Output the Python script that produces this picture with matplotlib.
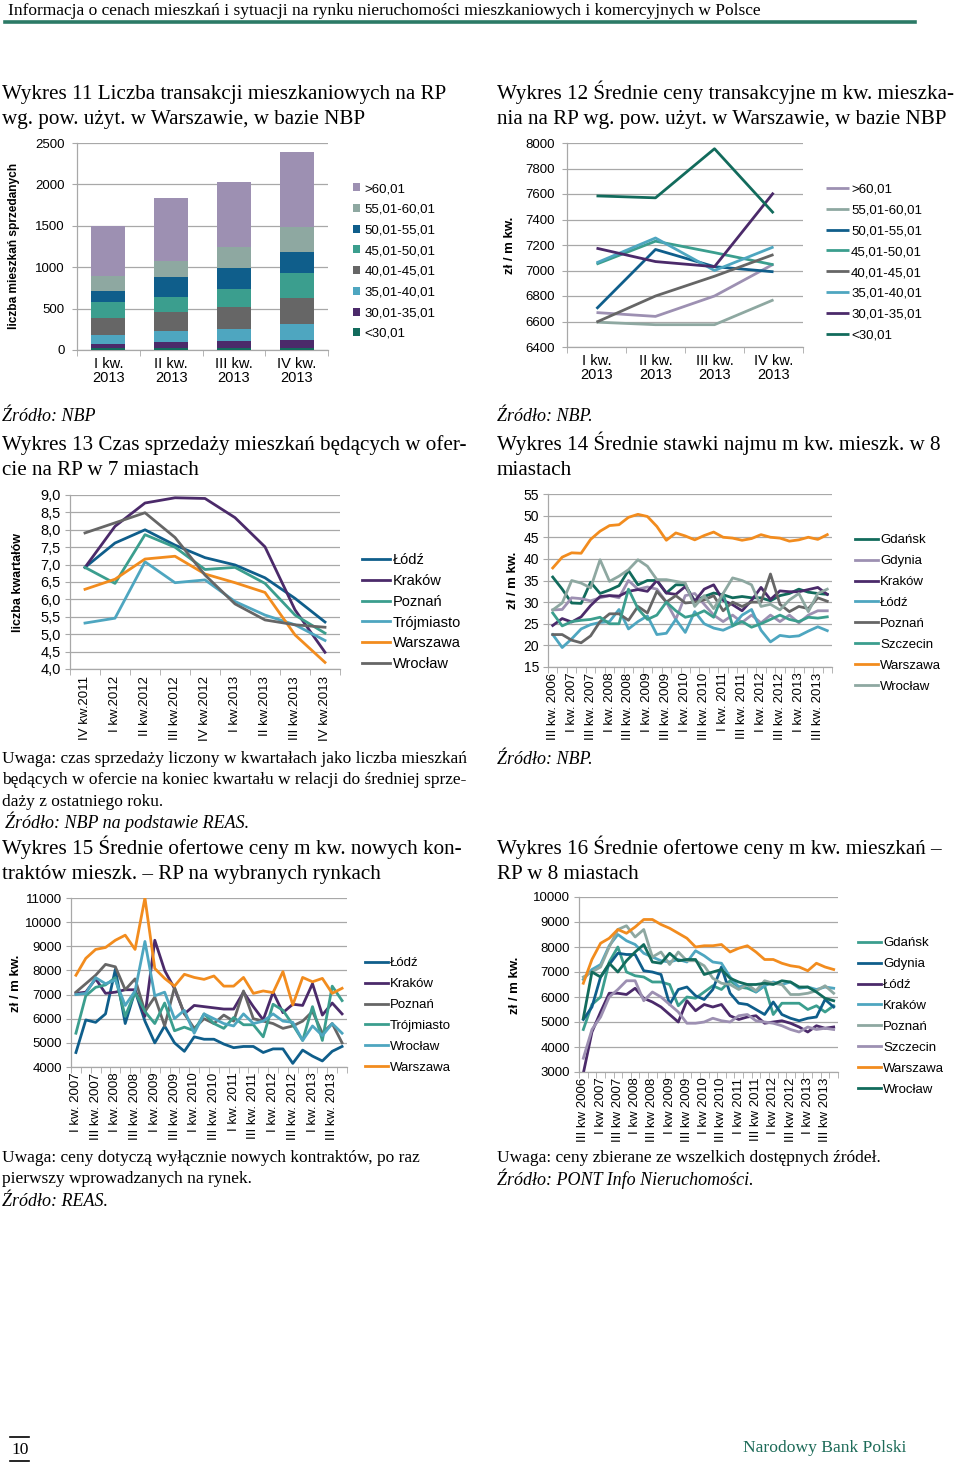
import numpy as np
import matplotlib
matplotlib.use('Agg')
import matplotlib.pyplot as plt
from matplotlib.lines import Line2D

# ------------------------------------------------------------------ data
# Wykres 11 (stacked bars)
q11 = ['I kw.\n2013', 'II kw.\n2013', 'III kw.\n2013', 'IV kw.\n2013']
b11_lt30 = [20, 20, 25, 30]
b11_30_35 = [48, 73, 80, 91]
b11_35_40 = [117, 137, 149, 189]
b11_40_45 = [206, 229, 266, 323]
b11_45_50 = [185, 178, 222, 302]
b11_50_55 = [141, 250, 245, 250]
b11_55_60 = [178, 193, 254, 302]
b11_gt60 = [605, 754, 782, 899]
bands = ['<30,01', '30,01-35,01', '35,01-40,01', '40,01-45,01',
         '45,01-50,01', '50,01-55,01', '55,01-60,01', '>60,01']

# Wykres 12 (lines)
c12_gt60 = [6670, 6640, 6800, 7050]
c12_55_60 = [6595, 6575, 6575, 6770]
c12_50_55 = [6700, 7165, 7030, 6990]
c12_45_50 = [7050, 7230, 7140, 7045]
c12_40_45 = [6595, 6800, 6955, 7125]
c12_35_40 = [7060, 7255, 7000, 7185]
c12_30_35 = [7175, 7070, 7030, 7610]
c12_lt30 = [7585, 7570, 7955, 7450]

# Wykres 13
q13 = ['IV kw.2011', 'I kw.2012', 'II kw.2012', 'III kw.2012', 'IV kw.2012',
       'I kw.2013', 'II kw.2013', 'III kw.2013', 'IV kw.2013']
lodz13 = [6.92, 7.62, 8.0, 7.56, 7.2, 6.99, 6.62, 6.03, 5.35]
krakow13 = [6.92, 8.1, 8.77, 8.92, 8.9, 8.35, 7.51, 5.7, 4.48]
poznan13 = [6.92, 6.46, 7.86, 7.5, 6.86, 6.92, 6.46, 5.55, 5.03]
trojmiasto13 = [5.32, 5.46, 7.08, 6.48, 6.56, 5.94, 5.55, 5.27, 4.82]
warszawa13 = [6.29, 6.58, 7.16, 7.24, 6.73, 6.48, 6.2, 4.98, 4.19]
wroclaw13 = [7.91, 8.2, 8.49, 7.78, 6.7, 5.87, 5.41, 5.27, 5.2]

# Wykres 14 (III kw. 2006 - IV kw. 2013)
q14 = ['III kw. 2006', 'IV kw. 2006', 'I kw. 2007', 'II kw. 2007', 'III kw. 2007', 'IV kw. 2007',
       'I kw. 2008', 'II kw. 2008', 'III kw. 2008', 'IV kw. 2008', 'I kw. 2009', 'II kw. 2009',
       'III kw. 2009', 'IV kw. 2009', 'I kw. 2010', 'II kw. 2010', 'III kw. 2010', 'IV kw. 2010',
       'I kw. 2011', 'II kw. 2011', 'III kw. 2011', 'IV kw. 2011', 'I kw. 2012', 'II kw. 2012',
       'III kw. 2012', 'IV kw. 2012', 'I kw. 2013', 'II kw. 2013', 'III kw. 2013', 'IV kw. 2013']
gdansk14 = [35.8, 33.0, 29.8, 29.7, 34.6, 32.0, 32.8, 33.8, 37.3, 34.0, 35.0, 35.0, 32.1, 34.0, 34.0,
            30.2, 31.3, 32.1, 31.7, 31.0, 31.3, 31.0, 31.0, 30.3, 31.5, 32.0, 33.0, 32.3, 32.0, 31.8]
gdynia14 = [28.2, 28.3, 31.0, 30.8, 30.3, 31.0, 31.5, 31.0, 35.0, 33.0, 33.5, 33.0, 30.0, 26.0, 31.5,
            32.0, 29.5, 27.0, 25.5, 27.0, 25.3, 27.0, 25.2, 27.0, 25.5, 27.0, 25.2, 27.0, 28.0, 28.0]
krakow14 = [24.6, 26.2, 25.4, 26.6, 29.2, 31.3, 31.5, 31.4, 32.5, 32.9, 32.5, 35.0, 32.1, 31.8, 33.6,
            30.2, 33.0, 34.0, 30.4, 29.4, 28.0, 30.4, 33.4, 30.6, 32.6, 32.4, 32.4, 32.9, 33.4, 31.8]
lodz14 = [22.5, 19.5, 21.5, 23.8, 24.8, 25.3, 25.5, 28.3, 23.8, 25.5, 26.8, 22.5, 22.8, 26.0, 23.0,
          27.8, 25.0, 24.0, 23.5, 24.5, 27.0, 28.3, 23.5, 20.8, 22.3, 22.0, 22.2, 23.3, 24.3, 23.4]
poznan14 = [22.5, 22.5, 21.2, 20.6, 22.2, 25.5, 27.3, 27.3, 25.8, 29.0, 27.5, 32.5, 30.0, 31.5, 29.8,
            30.0, 30.5, 31.5, 28.0, 30.0, 29.0, 30.0, 30.0, 36.5, 29.5, 27.8, 29.0, 28.5, 31.0, 30.2]
szczecin14 = [27.5, 24.5, 25.5, 25.8, 26.0, 26.5, 25.0, 25.0, 33.0, 28.5, 26.0, 27.0, 30.0, 28.0, 26.5,
              27.0, 28.0, 26.5, 32.0, 24.5, 25.5, 24.2, 25.0, 26.0, 27.0, 26.0, 25.5, 26.5, 26.3, 26.6]
warszawa14 = [37.9, 40.4, 41.4, 41.3, 44.5, 46.4, 47.7, 47.9, 49.6, 50.3, 49.8, 47.5, 44.3, 46.0, 45.3,
              44.4, 45.4, 46.2, 45.0, 44.8, 44.3, 44.7, 45.6, 45.0, 44.8, 44.1, 44.4, 45.0, 44.5, 45.6]
wroclaw14 = [28.2, 29.8, 35.0, 34.4, 33.3, 39.8, 34.8, 36.0, 37.5, 39.8, 38.3, 35.2, 35.2, 34.8, 34.4,
             29.0, 31.5, 28.5, 32.0, 35.6, 35.0, 34.0, 29.0, 29.5, 28.2, 30.5, 32.0, 27.8, 32.0, 33.0]

# Wykres 15 (I kw. 2007 - IV kw. 2013)
q15 = ['I kw. 2007', 'II kw. 2007', 'III kw. 2007', 'IV kw. 2007', 'I kw. 2008', 'II kw. 2008',
       'III kw. 2008', 'IV kw. 2008', 'I kw. 2009', 'II kw. 2009', 'III kw. 2009', 'IV kw. 2009',
       'I kw. 2010', 'II kw. 2010', 'III kw. 2010', 'IV kw. 2010', 'I kw. 2011', 'II kw. 2011',
       'III kw. 2011', 'IV kw. 2011', 'I kw. 2012', 'II kw. 2012', 'III kw. 2012', 'IV kw. 2012',
       'I kw. 2013', 'II kw. 2013', 'III kw. 2013', 'IV kw. 2013']
lodz15 = [4600, 5950, 5850, 6200, 8050, 5800, 7150, 5900, 5000, 5700, 5000, 4650, 5250, 5150,
          5150, 4950, 4800, 4850, 4850, 4600, 4750, 4750, 4150, 4700, 4450, 4250, 4650, 4850]
krakow15 = [7050, 7100, 7650, 7050, 7100, 7200, 7200, 6100, 9250, 8000, 7250, 6200, 6550, 6500,
            6450, 6400, 6400, 7100, 6500, 5950, 7100, 6250, 6600, 6550, 7450, 6150, 6650, 6200]
poznan15 = [7100, 7450, 7800, 8250, 8150, 7200, 7650, 6300, 6900, 5700, 7300, 6200, 5600, 6000,
            5800, 6150, 5900, 7150, 6000, 5900, 5800, 5600, 5700, 5900, 6300, 5400, 5800, 5000]
trojmiasto15 = [5400, 6950, 7300, 7400, 7700, 6100, 7100, 6300, 5800, 6650, 5500, 5650, 5500, 6200,
                5800, 5600, 6050, 5750, 5750, 5250, 6600, 6350, 5750, 5100, 6500, 5100, 7350, 6750]
wroclaw15 = [7000, 7050, 7700, 7450, 7600, 6550, 7150, 9200, 6950, 7100, 6000, 6350, 5400, 6200,
             6000, 5800, 5700, 6200, 5800, 5900, 6200, 5900, 5850, 5100, 5700, 5300, 5800, 5400]
warszawa15 = [7800, 8500, 8870, 8950, 9250, 9460, 8870, 11000, 8080, 7670, 7350, 7840, 7710, 7630,
              7770, 7350, 7350, 7710, 7050, 7150, 7080, 7950, 6570, 7710, 7530, 7670, 7050, 7260]

# Wykres 16 (III kw 2006 - IV kw 2013)
q16 = ['III kw 2006', 'IV kw 2006', 'I kw 2007', 'II kw 2007', 'III kw 2007', 'IV kw 2007',
       'I kw 2008', 'II kw 2008', 'III kw 2008', 'IV kw 2008', 'I kw 2009', 'II kw 2009',
       'III kw 2009', 'IV kw 2009', 'I kw 2010', 'II kw 2010', 'III kw 2010', 'IV kw 2010',
       'I kw 2011', 'II kw 2011', 'III kw 2011', 'IV kw 2011', 'I kw 2012', 'II kw 2012',
       'III kw 2012', 'IV kw 2012', 'I kw 2013', 'II kw 2013', 'III kw 2013', 'IV kw 2013']
gdansk16 = [4700, 5700, 6000, 7400, 8000, 7000, 6850, 6800, 6600, 6600, 6500, 5650, 6000, 5950, 6200,
            6450, 6300, 6650, 6400, 6350, 6200, 6450, 5300, 5750, 5750, 5750, 5500, 5650, 5400, 5650]
gdynia16 = [5100, 5600, 6800, 7300, 7750, 7700, 7700, 7050, 7000, 6900, 5700, 6300, 6400, 6050, 5900,
            6300, 7200, 6150, 5750, 5700, 5500, 5300, 5800, 5300, 5150, 5050, 5150, 5200, 5900, 5600]
lodz16 = [2950, 4600, 5400, 6150, 6150, 6100, 6350, 5950, 5800, 5600, 5300, 5000, 5850, 5450, 5700,
          5600, 5700, 5250, 5100, 5200, 5250, 4950, 5000, 5050, 4950, 4800, 4600, 4850, 4750, 4800]
krakow16 = [6700, 7100, 7300, 8050, 8500, 8250, 8100, 7750, 7600, 7450, 7400, 7500, 7400, 7850, 7650,
            7400, 7350, 6800, 6400, 6500, 6200, 6450, 6600, 6500, 6600, 6350, 6400, 6300, 6400, 6350]
poznan16 = [6800, 7000, 7200, 8000, 8700, 8850, 8400, 8700, 7600, 7800, 7300, 7800, 7450, 7450, 7250,
            6750, 6550, 6500, 6300, 6500, 6250, 6650, 6550, 6500, 6100, 6100, 6150, 6250, 6450, 6150]
szczecin16 = [3550, 4700, 5200, 6000, 6300, 6650, 6650, 5850, 6200, 6000, 5700, 5400, 4950, 4950, 5000,
              5150, 5050, 5000, 5250, 5300, 5050, 5000, 4950, 4850, 4700, 4600, 4800, 4700, 4750, 4700]
warszawa16 = [6550, 7500, 8150, 8350, 8700, 8550, 8800, 9100, 9100, 8900, 8750, 8550, 8350, 8000, 8050,
              8050, 8100, 7800, 7950, 8050, 7800, 7500, 7500, 7350, 7250, 7200, 7050, 7350, 7200, 7100]
wroclaw16 = [5150, 7000, 6800, 7350, 7000, 7450, 7800, 8100, 7400, 7350, 7750, 7450, 7500, 7500, 6900,
             7000, 7100, 6750, 6600, 6500, 6500, 6550, 6500, 6650, 6600, 6400, 6400, 6200, 5950, 5850]

# ------------------------------------------------------------------ style
W, H = 960, 1463
SANS = ['Liberation Sans', 'DejaVu Sans']
SERIF = ['Liberation Serif', 'DejaVu Serif']
plt.rcParams['font.family'] = SANS
plt.rcParams['axes.unicode_minus'] = False

C_DTEAL = '#126b5c'
C_PURPLE = '#4b2a6a'
C_LBLUE = '#4ea6c0'
C_GRAY = '#666666'
C_TEAL = '#3b9e8e'
C_DBLUE = '#0f5e8b'
C_GGREEN = '#8ea8a1'
C_LAV = '#9d90b2'
C_ORANGE = '#f28c1e'
GRID = '#a8a8a8'
FS = 9.5
LW = 2.0

fig = plt.figure(figsize=(W / 100, H / 100), dpi=100)
fig.patch.set_facecolor('white')
renderer = fig.canvas.get_renderer()


def add_ax(l, t, r, b):
    return fig.add_axes([l / W, 1 - b / H, (r - l) / W, (b - t) / H])


def style(ax, ylim, yticks, labels, ypad=3, fs=FS):
    ax.set_ylim(*ylim)
    ax.set_yticks(yticks)
    ax.set_yticklabels(labels, fontsize=fs)
    ax.yaxis.grid(True, color=GRID, lw=0.9)
    ax.set_axisbelow(True)
    for s in ['top', 'right']:
        ax.spines[s].set_visible(False)
    for s in ['left', 'bottom']:
        ax.spines[s].set_color(GRID)
        ax.spines[s].set_linewidth(0.9)
    ax.tick_params(axis='y', length=3.5, color=GRID, pad=ypad)


def cat_axis(ax, labels, step=1, rotation=0, pad=4, fs=FS):
    n = len(labels)
    ax.set_xlim(-0.5, n - 0.5)
    idx = list(range(0, n, step))
    ax.set_xticks(idx)
    ax.set_xticklabels([labels[i] for i in idx], rotation=rotation, fontsize=fs,
                       ha='center', va='top', linespacing=1.0)
    ax.set_xticks(np.arange(-0.5, n, 1), minor=True)
    ax.tick_params(axis='x', which='major', length=0, pad=pad)
    ax.tick_params(axis='x', which='minor', length=4, color=GRID)


def ylab(x, y, s, fs=FS):
    fig.text(x / W, 1 - y / H, s, rotation=90, ha='center', va='center',
             fontsize=fs, fontweight='bold')


def legend(ax, handles, labels, x, ytop, marker=False, fs=FS, spacing=0.66,
           hlen=1.75, tpad=0.15):
    kw = dict(loc='upper left', bbox_to_anchor=(x / W, 1 - ytop / H),
              bbox_transform=fig.transFigure, frameon=False, fontsize=fs,
              borderpad=0, borderaxespad=0, labelspacing=spacing)
    if marker:
        kw.update(handlelength=0.55, handleheight=0.55, handletextpad=0.3)
    else:
        kw.update(handlelength=hlen, handletextpad=tpad)
    ax.legend(handles, labels, **kw)


def fit(s, width, italic=False, base=12):
    t = fig.text(0, 0, s, fontsize=base, family=SERIF,
                 style='italic' if italic else 'normal')
    w = t.get_window_extent(renderer=renderer).width
    t.remove()
    return base * width / w


def txt(x, y, s, size, italic=False, color='black'):
    fig.text(x / W, 1 - y / H, s, fontsize=size, family=SERIF, ha='left',
             va='baseline', style='italic' if italic else 'normal', color=color)


# ------------------------------------------------------------------ Wykres 11
ax = add_ax(77, 143, 328, 350)
series11 = [b11_lt30, b11_30_35, b11_35_40, b11_40_45, b11_45_50, b11_50_55, b11_55_60, b11_gt60]
cols11 = [C_DTEAL, C_PURPLE, C_LBLUE, C_GRAY, C_TEAL, C_DBLUE, C_GGREEN, C_LAV]
x11 = np.arange(len(q11))
bottom = np.zeros(len(q11))
handles = []
for vals, col, lab in zip(series11, cols11, bands):
    bc = ax.bar(x11, vals, 0.54, bottom=bottom, color=col, label=lab, zorder=3)
    handles.append(bc)
    bottom += np.array(vals)
style(ax, (0, 2500), [0, 500, 1000, 1500, 2000, 2500],
      ['0', '500', '1000', '1500', '2000', '2500'], ypad=5.5)
cat_axis(ax, q11, pad=5, fs=10.5)
legend(ax, handles[::-1], bands[::-1], 353, 183, marker=True)
ylab(14, 246, 'liczba mieszkań sprzedanych', fs=8.6)

# ------------------------------------------------------------------ Wykres 12
ax = add_ax(567, 143, 803, 347)
series12 = [c12_gt60, c12_55_60, c12_50_55, c12_45_50, c12_40_45, c12_35_40, c12_30_35, c12_lt30]
cols12 = [C_LAV, C_GGREEN, C_DBLUE, C_TEAL, C_GRAY, C_LBLUE, C_PURPLE, C_DTEAL]
labs12 = bands[::-1]
hs = []
for vals, col in zip(series12, cols12):
    hs += ax.plot(np.arange(4), vals, color=col, lw=LW, solid_capstyle='butt')
style(ax, (6400, 8000), list(range(6400, 8001, 200)),
      [str(v) for v in range(6400, 8001, 200)], ypad=5.5)
cat_axis(ax, q11, pad=5, fs=10.5)
legend(ax, hs, labs12, 826, 183)
ylab(510, 245, 'zł / m kw.')

# ------------------------------------------------------------------ Wykres 13
ax = add_ax(70, 495, 340, 669)
series13 = [lodz13, krakow13, poznan13, trojmiasto13, warszawa13, wroclaw13]
cols13 = [C_DBLUE, C_PURPLE, C_TEAL, C_LBLUE, C_ORANGE, C_GRAY]
labs13 = ['Łódź', 'Kraków', 'Poznań', 'Trójmiasto', 'Warszawa', 'Wrocław']
hs = []
for vals, col in zip(series13, cols13):
    hs += ax.plot(np.arange(len(q13)), vals, color=col, lw=LW)
yt13 = [4.0, 4.5, 5.0, 5.5, 6.0, 6.5, 7.0, 7.5, 8.0, 8.5, 9.0]
style(ax, (4.0, 9.0), yt13, [('%.1f' % v).replace('.', ',') for v in yt13], fs=10.5)
cat_axis(ax, q13, rotation=90, pad=5)
legend(ax, hs, labs13, 362, 553, fs=10.5, spacing=0.47, hlen=1.92, tpad=0.2)
ylab(18, 582, 'liczba kwartałów', fs=9.0)

# ------------------------------------------------------------------ Wykres 14
ax = add_ax(548, 494, 832, 667)
series14 = [gdansk14, gdynia14, krakow14, lodz14, poznan14, szczecin14, warszawa14, wroclaw14]
cols14 = [C_DTEAL, C_LAV, C_PURPLE, C_LBLUE, C_GRAY, C_TEAL, C_ORANGE, C_GGREEN]
labs14 = ['Gdańsk', 'Gdynia', 'Kraków', 'Łódź', 'Poznań', 'Szczecin', 'Warszawa', 'Wrocław']
hs = []
for vals, col in zip(series14, cols14):
    hs += ax.plot(np.arange(len(q14)), vals, color=col, lw=LW)
style(ax, (15, 55), list(range(15, 56, 5)), [str(v) for v in range(15, 56, 5)], fs=10)
cat_axis(ax, q14, step=2, rotation=90, pad=4)
legend(ax, hs, labs14, 855, 534)
ylab(513, 580, 'zł / m kw.')

# ------------------------------------------------------------------ Wykres 15
ax = add_ax(71, 898, 347, 1067)
series15 = [lodz15, krakow15, poznan15, trojmiasto15, wroclaw15, warszawa15]
cols15 = [C_DBLUE, C_PURPLE, C_GRAY, C_TEAL, C_LBLUE, C_ORANGE]
labs15 = ['Łódź', 'Kraków', 'Poznań', 'Trójmiasto', 'Wrocław', 'Warszawa']
hs = []
for vals, col in zip(series15, cols15):
    hs += ax.plot(np.arange(len(q15)), vals, color=col, lw=LW)
style(ax, (4000, 11000), list(range(4000, 11001, 1000)),
      [str(v) for v in range(4000, 11001, 1000)])
cat_axis(ax, q15, step=2, rotation=90, pad=4)
legend(ax, hs, labs15, 365, 957)
ylab(16, 983, 'zł / m kw.')

# ------------------------------------------------------------------ Wykres 16
ax = add_ax(579, 897, 838, 1072)
series16 = [gdansk16, gdynia16, lodz16, krakow16, poznan16, szczecin16, warszawa16, wroclaw16]
cols16 = [C_TEAL, C_DBLUE, C_PURPLE, C_LBLUE, C_GGREEN, C_LAV, C_ORANGE, C_DTEAL]
labs16 = ['Gdańsk', 'Gdynia', 'Łódź', 'Kraków', 'Poznań', 'Szczecin', 'Warszawa', 'Wrocław']
hs = []
for vals, col in zip(series16, cols16):
    hs += ax.plot(np.arange(len(q16)), vals, color=col, lw=LW)
style(ax, (3000, 10000), list(range(3000, 10001, 1000)),
      [str(v) for v in range(3000, 10001, 1000)])
cat_axis(ax, q16, step=2, rotation=90, pad=4)
legend(ax, hs, labs16, 858, 937)
ylab(515, 985, 'zł / m kw.')

# ------------------------------------------------------------------ texts
s_head = fit('Informacja o cenach mieszkań i sytuacji na rynku nieruchomości mieszkaniowych i komercyjnych w Polsce', 752)
s_title = fit('Wykres 11 Liczba transakcji mieszkaniowych na RP', 444)
s_note = fit('Uwaga: czas sprzedaży liczony w kwartałach jako liczba mieszkań', 465)
s_src = fit('Źródło: NBP na podstawie REAS.', 245, italic=True)
s_nbp = fit('Narodowy Bank Polski', 163)

txt(8, 15, 'Informacja o cenach mieszkań i sytuacji na rynku nieruchomości mieszkaniowych i komercyjnych w Polsce', s_head)
fig.add_artist(Line2D([5 / W, 915 / W], [1 - 22 / H, 1 - 22 / H], color='#2b7a66', lw=2.6,
                      transform=fig.transFigure))

txt(2, 99, 'Wykres 11 Liczba transakcji mieszkaniowych na RP', s_title)
txt(2, 124, 'wg. pow. użyt. w Warszawie, w bazie NBP', s_title)
txt(497, 99, 'Wykres 12 Średnie ceny transakcyjne m kw. mieszka-', s_title)
txt(497, 124, 'nia na RP wg. pow. użyt. w Warszawie, w bazie NBP', s_title)

txt(2, 421, 'Źródło: NBP', s_src, italic=True)
txt(497, 421, 'Źródło: NBP.', s_src, italic=True)
txt(2, 450, 'Wykres 13 Czas sprzedaży mieszkań będących w ofer-', s_title)
txt(2, 475, 'cie na RP w 7 miastach', s_title)
txt(497, 450, 'Wykres 14 Średnie stawki najmu m kw. mieszk. w 8', s_title)
txt(497, 475, 'miastach', s_title)

txt(2, 763, 'Uwaga: czas sprzedaży liczony w kwartałach jako liczba mieszkań', s_note)
txt(2, 784, 'będących w ofercie na koniec kwartału w relacji do średniej sprze-', s_note)
txt(2, 806, 'daży z ostatniego roku.', s_note)
txt(5, 828, 'Źródło: NBP na podstawie REAS.', s_src, italic=True)
txt(497, 764, 'Źródło: NBP.', s_src, italic=True)

txt(2, 854, 'Wykres 15 Średnie ofertowe ceny m kw. nowych kon-', s_title)
txt(2, 879, 'traktów mieszk. – RP na wybranych rynkach', s_title)
txt(497, 854, 'Wykres 16 Średnie ofertowe ceny m kw. mieszkań –', s_title)
txt(497, 879, 'RP w 8 miastach', s_title)

txt(2, 1162, 'Uwaga: ceny dotyczą wyłącznie nowych kontraktów, po raz', s_note)
txt(2, 1183, 'pierwszy wprowadzanych na rynek.', s_note)
txt(2, 1206, 'Źródło: REAS.', s_src, italic=True)
txt(497, 1162, 'Uwaga: ceny zbierane ze wszelkich dostępnych źródeł.', s_note)
txt(497, 1185, 'Źródło: PONT Info Nieruchomości.', s_src, italic=True)

# footer
for yy in (1437, 1461):
    fig.add_artist(Line2D([10 / W, 29 / W], [1 - yy / H, 1 - yy / H], color='black', lw=1.2,
                          transform=fig.transFigure))
txt(11, 1454, '10', s_head)
txt(743, 1452, 'Narodowy Bank Polski', s_nbp, color='#1d6b58')

fig.savefig('out.png', dpi=100, facecolor='white')
